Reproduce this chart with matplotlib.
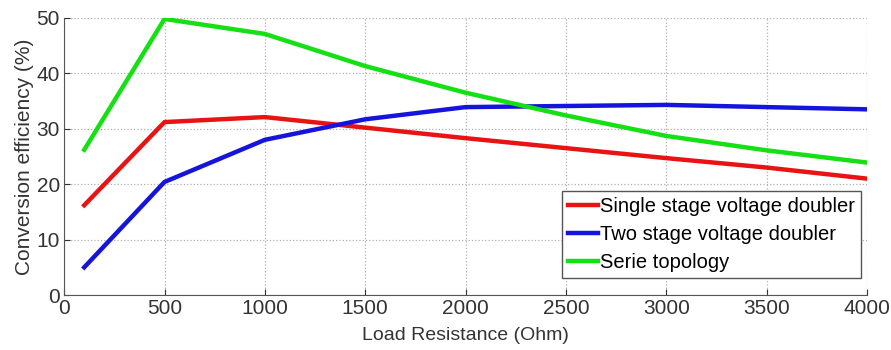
import matplotlib.pyplot as plt

plt.rcParams['font.family'] = ['Liberation Sans', 'DejaVu Sans']

# load resistance (Ohm)
load_r = [100, 500, 1000, 1500, 2000, 2500, 3000, 3500, 4000]

# conversion efficiency (%)
single_stage = [16.2, 31.2, 32.1, 30.2, 28.3, 26.5, 24.7, 23.0, 21.0]
two_stage = [5.0, 20.4, 28.0, 31.7, 33.9, 34.1, 34.3, 33.9, 33.5]
serie_topo = [26.2, 49.8, 47.1, 41.3, 36.5, 32.4, 28.7, 26.1, 23.9]

labels = ['Single stage voltage doubler', 'Two stage voltage doubler', 'Serie topology']
colors = ['#e81414', '#1414dc', '#14e014']

fig = plt.figure(figsize=(8.91, 3.5), dpi=100)
ax = fig.add_axes([0.072, 0.157, 0.901, 0.792])

for ys, lab, col in zip([single_stage, two_stage, serie_topo], labels, colors):
    ax.plot(load_r, ys, color=col, linewidth=3.2, label=lab)

ax.set_xlim(0, 4000)
ax.set_ylim(0, 50)
ax.set_xticks(range(0, 4001, 500))
ax.set_yticks(range(0, 51, 10))
ax.grid(True, linestyle=':', color='#b0b0b0', linewidth=0.9)
ax.spines['top'].set_visible(False)
ax.spines['right'].set_visible(False)
ax.spines['left'].set_color('#555555')
ax.spines['bottom'].set_color('#555555')
ax.tick_params(direction='in', labelsize=15, colors='#333333', length=4, pad=3)
ax.set_xlabel('Load Resistance (Ohm)', fontsize=14, color='#333333', labelpad=6)
ax.set_ylabel('Conversion efficiency (%)', fontsize=15, color='#333333', labelpad=2)

leg = ax.legend(loc='lower right', bbox_to_anchor=(0.993, 0.06), fontsize=14.5,
                fancybox=False, framealpha=1, edgecolor='#555555',
                handlelength=1.5, handletextpad=0.1, borderpad=0.3, labelspacing=0.45,
                borderaxespad=0)
leg.get_frame().set_linewidth(1.0)

fig.savefig('out.png', dpi=100)
